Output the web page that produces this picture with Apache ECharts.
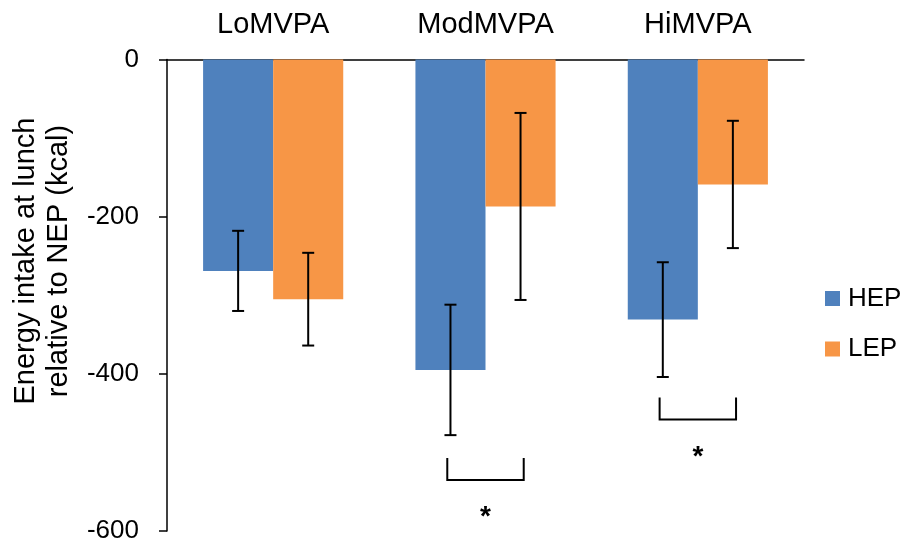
<!DOCTYPE html>
<html>
<head>
<meta charset="utf-8">
<script src="https://cdn.jsdelivr.net/npm/echarts@6/dist/echarts.min.js"></script>
<style>
  html, body { margin: 0; padding: 0; background: #fff; }
  #chart { width: 909px; height: 548px; }
</style>
</head>
<body>
<div id="chart"></div>
<script>
// Activity groups and exercise conditions
const categories = ['LoMVPA', 'ModMVPA', 'HiMVPA'];
const seriesNames = ['HEP', 'LEP'];

// Mean change in lunch energy intake relative to NEP (kcal) and error half-widths
const hepMean = [-269, -395, -331];
const hepErr = [51, 83, 73];
const lepMean = [-305, -187, -159];
const lepErr = [59, 119, 81];

// Y axis ticks
const yTicks = [0, -200, -400, -600];

// Significance markers: category index, bracket arm top / base level and asterisk level (kcal)
const sigCategory = [1, 2];
const sigBracketTop = [-507, -430];
const sigBracketBase = [-535, -458];
const sigStarLevel = [-575, -499];

const BLUE = '#4F81BD';
const ORANGE = '#F79646';
const FONT = '"Liberation Sans", Arial, sans-serif';

const chart = echarts.init(document.getElementById('chart'), null, { renderer: 'canvas' });

// Error bars drawn at the centre of each bar (bars take 33% of the band each, no gap)
function errorBarRenderer(sign) {
  return function (params, api) {
    const cat = api.value(0);
    const mean = api.value(1);
    const err = api.value(2);
    const band = api.size([1, 0])[0];
    const c = api.coord([cat, mean]);
    const x = c[0] + sign * band * 0.165;
    const yHi = api.coord([cat, mean + err])[1];
    const yLo = api.coord([cat, mean - err])[1];
    const cap = 6;
    const style = { stroke: '#000', lineWidth: 2 };
    return {
      type: 'group',
      children: [
        { type: 'line', shape: { x1: x, y1: yHi, x2: x, y2: yLo }, style },
        { type: 'line', shape: { x1: x - cap, y1: yHi, x2: x + cap, y2: yHi }, style },
        { type: 'line', shape: { x1: x - cap, y1: yLo, x2: x + cap, y2: yLo }, style }
      ]
    };
  };
}

function sigRenderer(params, api) {
  const cat = api.value(0);
  const top = api.value(1);
  const base = api.value(2);
  const star = api.value(3);
  const band = api.size([1, 0])[0];
  const cx = api.coord([cat, 0])[0];
  const xl = cx - band * 0.18;
  const xr = cx + band * 0.18;
  const yt = api.coord([cat, top])[1];
  const yb = api.coord([cat, base])[1];
  const ys = api.coord([cat, star])[1];
  const style = { stroke: '#000', lineWidth: 2, fill: null };
  return {
    type: 'group',
    children: [
      { type: 'polyline', shape: { points: [[xl, yt], [xl, yb], [xr, yb], [xr, yt]] }, style },
      {
        type: 'text',
        x: cx, y: ys + 6,
        style: {
          text: '*', fontSize: 28, fontWeight: 'bold', fontFamily: FONT,
          fill: '#000', align: 'center', verticalAlign: 'middle'
        }
      }
    ]
  };
}

const option = {
  backgroundColor: '#fff',
  animation: false,
  grid: { left: 167, right: 105, top: 59.5, bottom: 17, containLabel: false },
  legend: {
    data: seriesNames,
    orient: 'vertical',
    left: 820,
    top: 280.5,
    itemWidth: 15,
    itemHeight: 15,
    itemGap: 24.5,
    icon: 'rect',
    textStyle: { fontSize: 26, lineHeight: 25, fontFamily: FONT, color: '#000', padding: [0, 0, 0, 3] }
  },
  xAxis: {
    type: 'category',
    data: categories,
    position: 'top',
    axisLine: { show: true, onZero: false, lineStyle: { color: '#000', width: 1.5 } },
    axisTick: { show: false },
    axisLabel: { margin: 20, fontSize: 29, fontFamily: FONT, color: '#000' },
    splitLine: { show: false }
  },
  yAxis: {
    type: 'value',
    min: yTicks[yTicks.length - 1],
    max: yTicks[0],
    interval: 200,
    axisLine: { show: true, lineStyle: { color: '#000', width: 1.5 } },
    axisTick: { show: true, inside: false, length: 8, lineStyle: { color: '#000', width: 1.5 } },
    axisLabel: { margin: 28, fontSize: 26, fontFamily: FONT, color: '#000' },
    splitLine: { show: false }
  },
  series: [
    {
      name: 'HEP', type: 'bar', data: hepMean,
      barWidth: '33%', barGap: '0%',
      itemStyle: { color: BLUE }
    },
    {
      name: 'LEP', type: 'bar', data: lepMean,
      barWidth: '33%', barGap: '0%',
      itemStyle: { color: ORANGE }
    },
    {
      type: 'custom', name: 'HEP error', z: 5,
      renderItem: errorBarRenderer(-1),
      data: hepMean.map((m, i) => [i, m, hepErr[i]]),
      encode: { x: 0, y: 1 }, clip: false
    },
    {
      type: 'custom', name: 'LEP error', z: 5,
      renderItem: errorBarRenderer(1),
      data: lepMean.map((m, i) => [i, m, lepErr[i]]),
      encode: { x: 0, y: 1 }, clip: false
    },
    {
      type: 'custom', name: 'significance', z: 5,
      renderItem: sigRenderer,
      data: sigCategory.map((c, i) => [c, sigBracketTop[i], sigBracketBase[i], sigStarLevel[i]]),
      encode: { x: 0, y: 1 }, clip: false
    }
  ],
  graphic: [
    {
      type: 'text',
      x: 42, y: 261,
      rotation: Math.PI / 2,
      style: {
        text: 'Energy intake at lunch\nrelative to NEP (kcal)',
        fontSize: 29, lineHeight: 33, fontFamily: FONT, fill: '#000',
        align: 'center', verticalAlign: 'middle'
      }
    }
  ]
};

chart.setOption(option);
</script>
</body>
</html>
